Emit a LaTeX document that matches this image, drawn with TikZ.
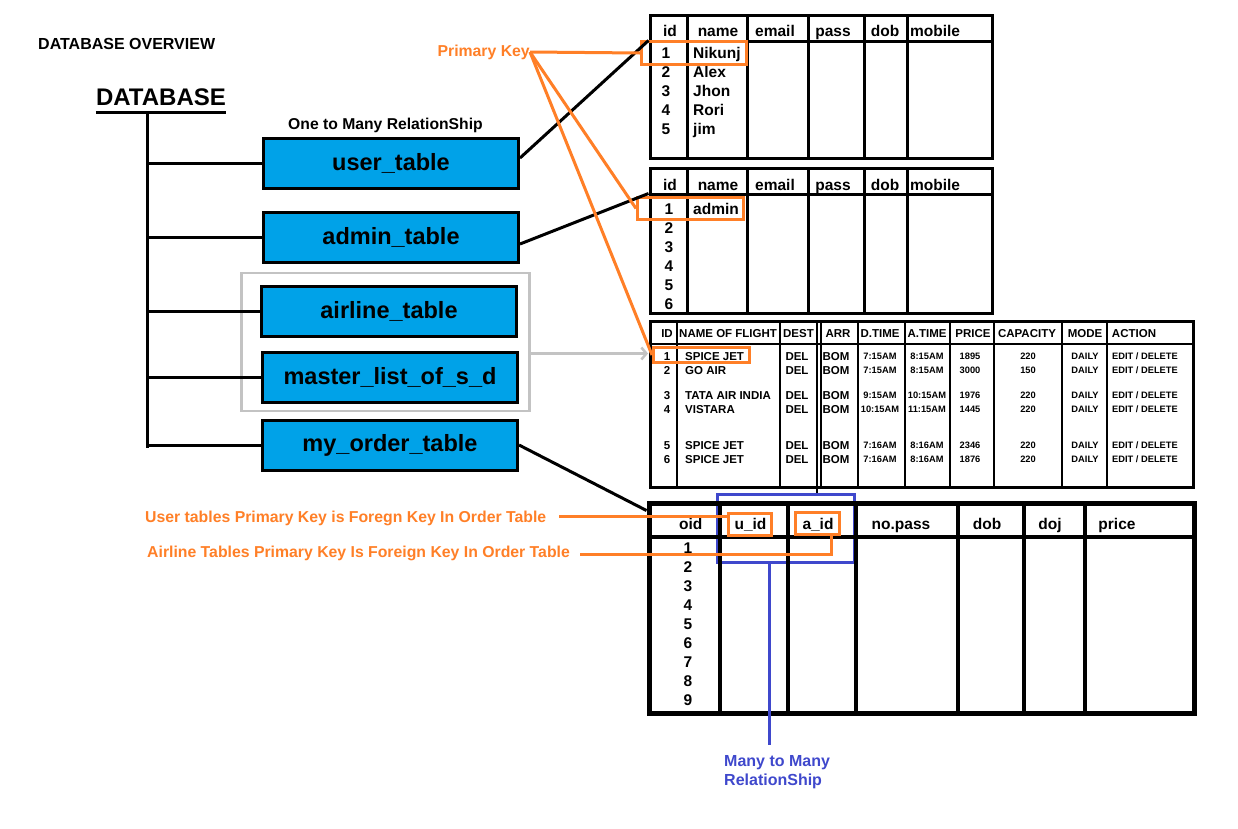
\documentclass[tikz,border=0pt]{standalone}
\usepackage{fontspec}
\setmainfont{Liberation Sans}
\usetikzlibrary{arrows.meta}
\definecolor{tblblue}{HTML}{00A2E8}
\definecolor{keyorange}{HTML}{FF7F27}
\definecolor{grpgray}{HTML}{C3C3C3}
\definecolor{relindigo}{HTML}{3F48CC}
\pgfdeclarelayer{background layer}
\pgfsetlayers{background layer,main}
\tikzstyle{tblbox}=[rectangle,draw=black,line width=3pt,fill=tblblue,minimum width=255pt,minimum height=50pt,inner sep=0pt,font=\fontsize{23.5}{23.5}\selectfont\bfseries]
\tikzstyle{tabframe}=[rectangle,draw=black,line width=3pt,inner sep=0pt]
\tikzstyle{tabline}=[line width=3pt]
\tikzstyle{thinline}=[line width=2pt]
\tikzstyle{link}=[line width=3pt]
\tikzstyle{keybox}=[rectangle,draw=keyorange,line width=3pt,inner sep=0pt]
\tikzstyle{keyline}=[draw=keyorange,line width=3pt]
\tikzstyle{keytext}=[text=keyorange,inner sep=0pt,font=\fontsize{15.8}{19}\selectfont\bfseries]
\tikzstyle{cell}=[inner sep=0pt,align=center,font=\fontsize{15.5}{19}\selectfont\bfseries]
\tikzstyle{fcell}=[inner sep=0pt,align=center,font=\fontsize{11.5}{14}\selectfont\bfseries]
\tikzstyle{scell}=[inner sep=0pt,align=center,font=\fontsize{9.3}{14}\selectfont\bfseries]

\begin{document}
\begin{tikzpicture}[x=1pt,y=-1pt]
			\useasboundingbox (0,0) rectangle (1238,828);
			\node (dbover) at (38,44) [anchor=west,inner sep=0pt,font=\fontsize{16}{16}\selectfont\bfseries] {DATABASE OVERVIEW};
			\node (db) at (161,97) [inner sep=0pt,font=\fontsize{24}{24}\selectfont\bfseries] {DATABASE};
			\coordinate (root) at (147,112);
			\coordinate (rootend) at (147,448);
			\node (rel) at (385.5,129.6) [anchor=base,inner sep=0pt,font=\fontsize{15.7}{16}\selectfont\bfseries] {One to Many RelationShip};
			\node (usertbl) at (391,163) [tblbox] {user\_table};
			\node (admintbl) at (391,237) [tblbox] {admin\_table};
			\node (airlinetbl) at (389,311) [tblbox] {airline\_table};
			\node (mastertbl) at (390,377) [tblbox] {master\_list\_of\_s\_d};
			\node (ordertbl) at (390,445) [tblbox] {my\_order\_table};
			\node (pk) at (530,52) [keytext,anchor=east] {Primary Key};
			\node (fku) at (145,522.7) [keytext,anchor=base west] {User tables Primary Key is Foregn Key In Order Table};
			\node (fka) at (147,557.7) [keytext,anchor=base west] {Airline Tables Primary Key Is Foreign Key In Order Table};
			\node (mtmtxt) at (724,755) [anchor=north west,inner sep=0pt,align=left,text=relindigo,font=\fontsize{16}{19}\selectfont\bfseries] {Many to Many\\RelationShip};

			\node (usertab) at (821,86.5) [tabframe,minimum width=342pt,minimum height=143pt] {};
			\draw[tabline] (650,41) -- (992,41) (687,15) -- (687,158) (747,15) -- (747,158) (808,15) -- (808,158) (864,15) -- (864,158) (907,15) -- (907,158);
			\node (uh1) at (670,36) [cell,anchor=base] {id};
			\node (uh2) at (718,36) [cell,anchor=base] {name};
			\node (uh3) at (775,36) [cell,anchor=base] {email};
			\node (uh4) at (833,36) [cell,anchor=base] {pass};
			\node (uh5) at (885,36) [cell,anchor=base] {dob};
			\node (uh6) at (935,36) [cell,anchor=base] {mobile};
			\node (uid) at (666,47.5) [cell,anchor=north] {1\\2\\3\\4\\5};
			\node (uname) at (693,47.5) [cell,anchor=north west,align=left] {Nikunj\\Alex\\Jhon\\Rori\\jim};

			\node (admintab) at (821,240.5) [tabframe,minimum width=342pt,minimum height=145pt] {};
			\draw[tabline] (650,194) -- (992,194) (687,168) -- (687,313) (747,168) -- (747,313) (808,168) -- (808,313) (864,168) -- (864,313) (907,168) -- (907,313);
			\node (ah1) at (670,190) [cell,anchor=base] {id};
			\node (ah2) at (718,190) [cell,anchor=base] {name};
			\node (ah3) at (775,190) [cell,anchor=base] {email};
			\node (ah4) at (833,190) [cell,anchor=base] {pass};
			\node (ah5) at (885,190) [cell,anchor=base] {dob};
			\node (ah6) at (935,190) [cell,anchor=base] {mobile};
			\node (aid) at (669,203.5) [cell,anchor=north] {1\\2\\3\\4\\5\\6};
			\node (aname) at (693,203.5) [cell,anchor=north west,align=left] {admin};

			\node (flighttab) at (921.5,404) [tabframe,minimum width=543pt,minimum height=166pt] {};
			\draw[thinline] (650,344) -- (1193,344) (677,321) -- (677,487) (780,321) -- (780,487) (817,321) -- (817,493) (821,321) -- (821,487) (858,321) -- (858,487) (905,321) -- (905,487) (950,321) -- (950,487) (994,321) -- (994,487) (1062,321) -- (1062,487) (1107,321) -- (1107,487);
			\node (fh1) at (667,337) [fcell,anchor=base] {ID};
			\node (fh2) at (679,337) [fcell,anchor=base west] {NAME OF FLIGHT};
			\node (fh3) at (798.5,337) [fcell,anchor=base] {DEST};
			\node (fh4) at (838,337) [fcell,anchor=base] {ARR};
			\node (fh5) at (880,337) [fcell,anchor=base] {D.TIME};
			\node (fh6) at (927,337) [fcell,anchor=base] {A.TIME};
			\node (fh7) at (973,337) [fcell,anchor=base] {PRICE};
			\node (fh8) at (1027,337) [fcell,anchor=base] {CAPACITY};
			\node (fh9) at (1085,337) [fcell,anchor=base] {MODE};
			\node (fh10) at (1134,337) [fcell,anchor=base] {ACTION};
			\node (fid) at (667,351.9) [fcell,anchor=north] {1\\2\\[11pt]3\\4\\[22pt]5\\6};
			\node (fname) at (685,351.9) [fcell,anchor=north west,align=left] {SPICE JET\\GO AIR\\[11pt]TATA AIR INDIA\\VISTARA\\[22pt]SPICE JET\\SPICE JET};
			\node (fdest) at (797,351.9) [fcell,anchor=north] {DEL\\DEL\\[11pt]DEL\\DEL\\[22pt]DEL\\DEL};
			\node (farr) at (836,351.9) [fcell,anchor=north] {BOM\\BOM\\[11pt]BOM\\BOM\\[22pt]BOM\\BOM};
			\node (fdt) at (880,352.7) [scell,anchor=north] {7:15AM\\7:15AM\\[11pt]9:15AM\\10:15AM\\[22pt]7:16AM\\7:16AM};
			\node (fat) at (927,352.7) [scell,anchor=north] {8:15AM\\8:15AM\\[11pt]10:15AM\\11:15AM\\[22pt]8:16AM\\8:16AM};
			\node (fprice) at (970,352.7) [scell,anchor=north] {1895\\3000\\[11pt]1976\\1445\\[22pt]2346\\1876};
			\node (fcap) at (1028,352.7) [scell,anchor=north] {220\\150\\[11pt]220\\220\\[22pt]220\\220};
			\node (fmode) at (1085,352.7) [scell,anchor=north] {DAILY\\DAILY\\[11pt]DAILY\\DAILY\\[22pt]DAILY\\DAILY};
			\node (faction) at (1145,352.7) [scell,anchor=north] {EDIT / DELETE\\EDIT / DELETE\\[11pt]EDIT / DELETE\\EDIT / DELETE\\[22pt]EDIT / DELETE\\EDIT / DELETE};

			\node (ordertab) at (921.5,608) [tabframe,line width=5pt,minimum width=545pt,minimum height=210pt] {};
			\draw[line width=4pt] (649,537) -- (1194,537) (720,503) -- (720,713) (788,503) -- (788,713) (856,503) -- (856,713) (958,503) -- (958,713) (1024,503) -- (1024,713) (1085,503) -- (1085,713);
			\node (oh1) at (690.7,529.5) [cell,anchor=base] {oid};
			\node (oh2) at (750.5,529) [cell,anchor=base] {u\_id};
			\node (oh3) at (818,529) [cell,anchor=base] {a\_id};
			\node (oh4) at (901,529) [cell,anchor=base] {no.pass};
			\node (oh5) at (987,529) [cell,anchor=base] {dob};
			\node (oh6) at (1050,529) [cell,anchor=base] {doj};
			\node (oh7) at (1117,529) [cell,anchor=base] {price};
			\node (oid) at (688,542.5) [cell,anchor=north] {1\\2\\3\\4\\5\\6\\7\\8\\9};

			\node (pkuser) at (694,53) [keybox,minimum width=105pt,minimum height=23pt] {};
			\node (pkadmin) at (690.5,208.5) [keybox,minimum width=106pt,minimum height=22pt] {};
			\node (pkflight) at (701.5,355) [keybox,minimum width=96pt,minimum height=15pt] {};
			\node (fkuid) at (750,524.5) [keybox,minimum width=43pt,minimum height=22pt] {};
			\node (fkaid) at (817.5,523.5) [keybox,minimum width=44pt,minimum height=22pt] {};

			\begin{pgfonlayer}{background layer}
				\node (grp) at (385.5,342) [rectangle,draw=grpgray,line width=2.5pt,minimum width=288pt,minimum height=138pt] {};
				\node (mtm) at (786,528.5) [rectangle,draw=relindigo,line width=3pt,minimum width=137pt,minimum height=68pt] {};
			\end{pgfonlayer}

			\draw[link] (db.west |- root) -- (db.east |- root);
			\draw[link] (root) -- (rootend);
			\draw[link] (root |- usertbl.west) -- (usertbl.west);
			\draw[link] (root |- admintbl.west) -- (admintbl.west);
			\draw[link] (root |- airlinetbl.west) -- (airlinetbl.west);
			\draw[link] (root |- mastertbl.west) -- (mastertbl.west);
			\draw[link] (root |- ordertbl.west) -- (ordertbl.west);
			\draw[link] ([yshift=5pt]usertbl.east) -- ([yshift=-27pt]usertab.north west);
			\draw[link] ([yshift=-7pt]admintbl.east) -- ([yshift=-27pt]admintab.north west);
			\draw[link] (ordertbl.east) -- ([yshift=-10pt]ordertab.north west);
			\draw[grpgray,line width=2.5pt,-{Straight Barb[length=5pt,width=12pt]}] ([yshift=1.5pt]grp.east |- pkflight.west) -- ([xshift=-4pt,yshift=1.5pt]pkflight.west);
			\draw[keyline] (pk.east) -- (pkuser.west);
			\draw[keyline] (pk.east) -- (pkadmin.west);
			\draw[keyline] (pk.east) -- (pkflight.west);
			\draw[keyline] ([xshift=13pt,yshift=2pt]fku.east) -- ([yshift=2pt]fku.east -| fkuid.west);
			\draw[keyline] ([xshift=10pt,yshift=-1pt]fka.east) -- ([xshift=14pt,yshift=-1pt]fkaid.south |- fka.east) -- ([xshift=14pt]fkaid.south);
			\draw[relindigo,line width=3pt] ([xshift=-17pt]mtm.south) -- ([xshift=45pt,yshift=10pt]mtmtxt.north west);
		\end{tikzpicture}
\end{document}
